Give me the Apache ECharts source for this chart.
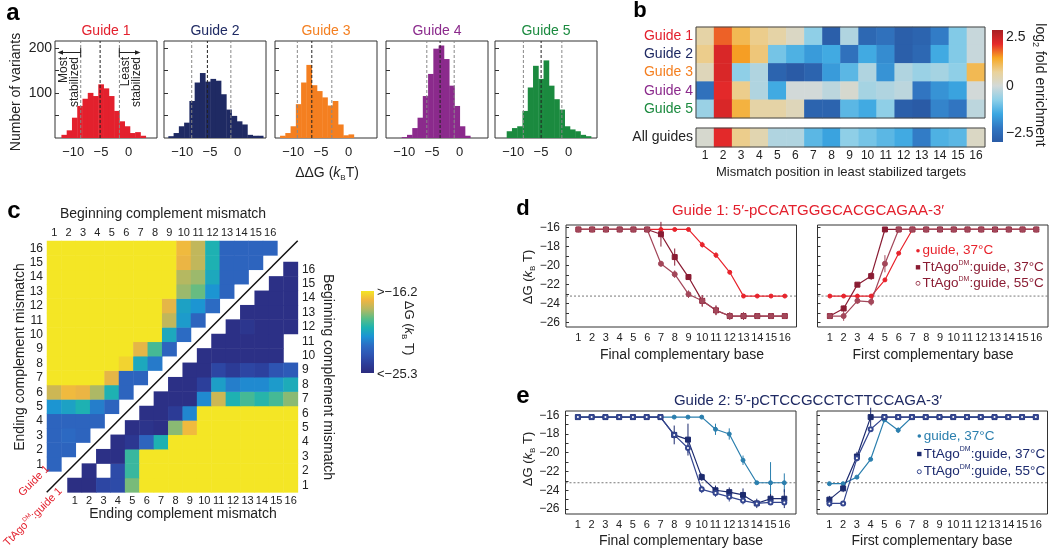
<!DOCTYPE html>
<html><head><meta charset="utf-8">
<script src="https://cdn.jsdelivr.net/npm/echarts@6/dist/echarts.min.js"></script>
<style>html,body{margin:0;padding:0;background:#fff}#c{width:1050px;height:549px}</style>
</head><body><div id="c"></div>
<script>
// ---------------- DATA ----------------
// Panel a: histograms of ΔΔG per guide
const aGuideNames = ['Guide 1', 'Guide 2', 'Guide 3', 'Guide 4', 'Guide 5'];
const histStarts = [-12.14, -12.52, -12.39, -10.46, -11.19];
const histBin = 0.95;
const hist1 = [7, 17, 45, 71, 87, 100, 93, 119, 110, 93, 60, 37, 26, 11, 13, 5];
const hist2 = [4, 11, 26, 34, 82, 123, 144, 125, 131, 127, 97, 63, 49, 37, 30, 7, 5, 5];
const hist3 = [5, 11, 26, 75, 123, 162, 117, 104, 90, 72, 82, 30, 6, 8];
const hist4 = [2, 7, 22, 45, 93, 142, 198, 205, 175, 116, 71, 26, 5];
const hist5 = [15, 22, 26, 60, 112, 160, 131, 172, 116, 86, 63, 26, 19, 15, 7, 4];
const histDash1 = [-8.66, -5.16, -1.68];
const histDash2 = [-8.30, -5.47, -1.24];
const histDash3 = [-9.27, -6.66, -3.05];
const histDash4 = [-5.94, -3.54, -1.00];
const histDash5 = [-8.18, -4.98, -1.24];
const aXTicks = [-10, -5, 0];
const aYTicks = [50, 100, 150, 200];
const aYLabels = [100, 200];

// Panel b: log2 fold enrichment heatmap
const bCols = ['1','2','3','4','5','6','7','8','9','10','11','12','13','14','15','16'];
const bRows = ['Guide 1', 'Guide 2', 'Guide 3', 'Guide 4', 'Guide 5'];
const bG1 = [0.5, 1.6, 1.0, 0.7, 0.5, 0.2, -0.6, -2.4, -0.3, -2.2, -2.0, -2.4, -2.3, -1.8, -0.7, -0.1];
const bG2 = [0.7, 2.0, 1.3, 0.8, -0.8, -1.1, -1.4, -1.2, -2.0, -1.2, -1.6, -2.4, -2.2, -1.2, -0.7, -0.1];
const bG3 = [0.3, 2.0, -0.6, -0.3, -2.3, -2.5, -2.3, -1.4, -1.0, -0.3, -1.5, -0.3, -0.5, -0.4, -0.6, 1.0];
const bG4 = [-2.0, 1.9, 0.7, -0.3, -1.2, 0.0, 0.0, -0.2, 0.1, -0.4, -0.3, -0.2, -1.9, -1.5, -1.3, 0.0];
const bG5 = [-0.5, 2.0, 1.1, 0.5, 0.5, 0.3, -2.3, -2.3, -1.0, -1.2, -0.6, -2.4, -2.5, -1.7, -1.9, -0.2];
const bAll = [0.1, 1.9, 0.7, 0.4, -0.3, -0.3, -1.0, -1.3, -0.6, -0.8, -1.0, -1.2, -1.8, -1.1, -1.0, 0.2];

// Panel c: ΔG matrices (rows = ending mismatch 1..16 for guide; rows = beginning 1..16 for TtAgo)
const cCats = ['1','2','3','4','5','6','7','8','9','10','11','12','13','14','15','16'];
const cGuide = [
  [-22.6, null, null, null, null, null, null, null, null, null, null, null, null, null, null, null],
  [-22.6, -22.6, null, null, null, null, null, null, null, null, null, null, null, null, null, null],
  [-22.6, -22.4, -22.6, null, null, null, null, null, null, null, null, null, null, null, null, null],
  [-22.6, -22.6, -22.6, -22.6, null, null, null, null, null, null, null, null, null, null, null, null],
  [-21.2, -20.8, -20.3, -21.8, -22.6, null, null, null, null, null, null, null, null, null, null, null],
  [-17.8, -17.1, -17.3, -18.3, -20.3, -22.6, null, null, null, null, null, null, null, null, null, null],
  [-16.2, -16.2, -16.2, -16.2, -17.4, -22.6, -22.6, null, null, null, null, null, null, null, null, null],
  [-16.2, -16.2, -16.2, -16.2, -16.2, -16.6, -20.6, -21.9, null, null, null, null, null, null, null, null],
  [-16.2, -16.2, -16.2, -16.2, -16.2, -16.2, -17.4, -19.6, -22.6, null, null, null, null, null, null, null],
  [-16.2, -16.2, -16.2, -16.2, -16.2, -16.2, -16.2, -16.2, -20.6, -22.3, null, null, null, null, null, null],
  [-16.2, -16.2, -16.2, -16.2, -16.2, -16.2, -16.2, -16.2, -18.0, -21.0, -22.6, null, null, null, null, null],
  [-16.2, -16.2, -16.2, -16.2, -16.2, -16.2, -16.2, -16.2, -17.4, -20.8, -21.2, -22.3, null, null, null, null],
  [-16.2, -16.2, -16.2, -16.2, -16.2, -16.2, -16.2, -16.2, -16.2, -18.5, -19.1, -21.2, -22.6, null, null, null],
  [-16.2, -16.2, -16.2, -16.2, -16.2, -16.2, -16.2, -16.2, -16.2, -18.2, -18.5, -20.6, -22.6, -22.6, null, null],
  [-16.2, -16.2, -16.2, -16.2, -16.2, -16.2, -16.2, -16.2, -16.2, -17.3, -18.0, -20.3, -22.6, -22.6, -22.6, null],
  [-16.2, -16.2, -16.2, -16.2, -16.2, -16.2, -16.2, -16.2, -16.2, -17.1, -18.0, -20.3, -22.6, -22.6, -22.6, -22.6]
];
const cTtAgo = [
  [-25.1, -25.1, -23.9, -23.7, -18.9, -16.2, -16.2, -16.2, -16.2, -16.2, -16.2, -16.2, -16.2, -16.2, -16.2, -16.2],
  [null, -25.0, null, -23.7, -19.8, -16.2, -16.2, -16.2, -16.2, -16.2, -16.2, -16.2, -16.2, -16.2, -16.2, -16.2],
  [null, null, -25.0, -25.0, -19.8, -16.2, -16.2, -16.2, -16.2, -16.2, -16.2, -16.2, -16.2, -16.2, -16.2, -16.2],
  [null, null, null, -25.0, -24.6, -22.6, -20.3, -16.2, -16.2, -16.2, -16.2, -16.2, -16.2, -16.2, -16.2, -16.2],
  [null, null, null, null, -25.0, -24.8, -25.0, -18.7, -17.1, -16.2, -16.2, -16.2, -16.2, -16.2, -16.2, -16.2],
  [null, null, null, null, null, -25.0, -25.0, -24.4, -21.6, -16.2, -16.2, -16.2, -16.2, -16.2, -16.2, -16.2],
  [null, null, null, null, null, null, -25.0, -25.0, -25.0, -21.5, -17.8, -20.3, -19.6, -20.1, -19.6, -18.7],
  [null, null, null, null, null, null, null, -25.0, -25.0, -24.2, -20.9, -21.8, -21.5, -21.5, -21.0, -20.5],
  [null, null, null, null, null, null, null, null, -25.0, -25.0, -23.9, -24.4, -23.9, -24.1, -23.3, -23.0],
  [null, null, null, null, null, null, null, null, null, -25.0, -25.0, -25.0, -25.0, -25.0, -25.0, null],
  [null, null, null, null, null, null, null, null, null, null, -25.0, -25.0, -25.0, -25.0, -25.0, null],
  [null, null, null, null, null, null, null, null, null, null, null, -25.0, -24.7, -25.0, -25.0, -25.0],
  [null, null, null, null, null, null, null, null, null, null, null, null, -25.0, -25.0, -25.0, -25.0],
  [null, null, null, null, null, null, null, null, null, null, null, null, null, -25.0, -25.0, -25.0],
  [null, null, null, null, null, null, null, null, null, null, null, null, null, null, -25.0, -25.0],
  [null, null, null, null, null, null, null, null, null, null, null, null, null, null, null, -25.0]
];

// Panels d, e: ΔG vs complementary base
const basePos = [1, 2, 3, 4, 5, 6, 7, 8, 9, 10, 11, 12, 13, 14, 15, 16];
const dgTicks = [-26, -25, -24, -23, -22, -21, -20, -19, -18, -17, -16];
const dgLabels = [-26, -24, -22, -20, -18, -16];
const dgRef = -23.2;
const dFinalGuide = [-16.2, -16.2, -16.2, -16.2, -16.2, -16.2, -16.2, -16.2, -16.2, -17.8, -18.9, -20.7, -23.2, -23.2, -23.2, -23.2];
const dFinalGuideErr = [0, 0, 0, 0, 0, 0, 0, 0, 0, 0.3, 0.3, 0.2, 0, 0, 0, 0];
const dFinalTt37 = [-16.2, -16.2, -16.2, -16.2, -16.2, -16.2, -16.7, -19.1, -21.2, -23.7, -24.7, -25.3, -25.3, -25.3, -25.3, -25.3];
const dFinalTt37Err = [0, 0, 0, 0, 0, 0, 1.3, 0.9, 0.3, 0.6, 0.5, 0.4, 0.4, 0, 0.3, 0];
const dFinalTt55 = [-16.2, -16.2, -16.2, -16.2, -16.2, -16.2, -19.8, -20.9, -23.0, -23.7, -24.7, -25.3, -25.3, -25.3, -25.3, -25.3];
const dFinalTt55Err = [0, 0, 0, 0, 0, 0, 0.3, 0.4, 0.4, 0.6, 0.5, 0, 0, 0, 0, 0];
const dFirstGuide = [-23.2, -23.2, -23.2, -23.2, -21.5, -18.7, -16.2, -16.2, -16.2, -16.2, -16.2, -16.2, -16.2, -16.2, -16.2, -16.2];
const dFirstGuideErr = [0, 0, 0, 0, 0.2, 0, 0, 0, 0, 0, 0, 0, 0, 0, 0, 0];
const dFirstTt37 = [-25.3, -24.5, -22.0, -21.1, -16.2, -16.2, -16.2, -16.2, -16.2, -16.2, -16.2, -16.2, -16.2, -16.2, -16.2, -16.2];
const dFirstTt37Err = [0, 0.3, 0.2, 0.4, 0, 0, 0, 0, 0, 0, 0, 0, 0, 0, 0, 0];
const dFirstTt55 = [-25.3, -25.3, -23.7, -23.8, -19.8, -16.2, -16.2, -16.2, -16.2, -16.2, -16.2, -16.2, -16.2, -16.2, -16.2, -16.2];
const dFirstTt55Err = [0, 0.5, 0.3, 0.4, 0.9, 0, 0, 0, 0, 0, 0, 0, 0, 0, 0, 0];
const eFinalGuide = [-16.2, -16.2, -16.2, -16.2, -16.2, -16.2, -16.2, -16.2, -16.2, -16.2, -17.5, -18.0, -20.8, -23.2, -23.2, -23.2];
const eFinalGuideErr = [0, 0, 0, 0, 0, 0, 0, 0, 0, 0, 0.6, 0.6, 0.5, 0, 2.2, 1.0];
const eFinalTt37 = [-16.2, -16.2, -16.2, -16.2, -16.2, -16.2, -16.2, -18.1, -18.6, -22.6, -24.0, -24.2, -24.5, -25.4, -24.9, -24.9];
const eFinalTt37Err = [0, 0, 0, 0, 0, 0, 0, 1.0, 1.7, 0.4, 0.5, 0.5, 0.7, 0.5, 0.5, 1.0];
const eFinalTt55 = [-16.2, -16.2, -16.2, -16.2, -16.2, -16.2, -16.2, -18.1, -19.5, -23.9, -24.3, -24.7, -25.1, -25.4, -25.3, -25.3];
const eFinalTt55Err = [0, 0, 0, 0, 0, 0, 0, 0.4, 0.5, 0.4, 0.4, 0.5, 0.4, 0, 0, 0];
const eFirstGuide = [-23.3, -23.3, -22.6, -20.7, -16.5, -17.6, -16.2, -16.2, -16.2, -16.2, -16.2, -16.2, -16.2, -16.2, -16.2, -16.2];
const eFirstGuideErr = [0, 0, 0, 0, 0, 0.3, 0, 0, 0, 0, 0, 0, 0, 0, 0, 0];
const eFirstTt37 = [-25.0, -23.8, -20.4, -16.2, -16.2, -16.2, -16.2, -16.2, -16.2, -16.2, -16.2, -16.2, -16.2, -16.2, -16.2, -16.2];
const eFirstTt37Err = [0.4, 0.4, 0.5, 1.0, 0, 0, 0, 0, 0, 0, 0, 0, 0, 0, 0, 0];
const eFirstTt55 = [-25.4, -25.4, -20.6, -17.5, -16.2, -16.2, -16.2, -16.2, -16.2, -16.2, -16.2, -16.2, -16.2, -16.2, -16.2, -16.2];
const eFirstTt55Err = [0.4, 0, 0.3, 0, 0, 0, 0, 0, 0, 0, 0, 0, 0, 0, 0, 0];

// ---------------- STYLE ----------------
const FONT = "'Liberation Sans', Arial, Helvetica, sans-serif";
const NARROW = "'Liberation Sans Narrow', 'Arial Narrow', 'Liberation Sans', sans-serif";
const guideColors = ['#e3202d', '#1f2a63', '#f47f20', '#8b2a8c', '#1b8a3f'];
const bPalette = ['#2a5ba6', '#3176c2', '#3ba7e2', '#8ccfe8', '#d2d9d8', '#ead29a', '#f7a823', '#e5292a', '#a81e22'];
const parula = ['#2c2b7e', '#2c3d99', '#2e55b3', '#2c6cc4', '#1c93d4', '#1eb3b0', '#5bbd86', '#b4b862', '#f0b541', '#f4e625'];
const minus = v => (v < 0 ? '\u2212' + Math.abs(v) : String(v));

const grids = [], xAxes = [], yAxes = [], series = [], graphics = [];
function addGrid(g) { grids.push(g); return grids.length - 1; }
function txt(x, y, text, o) {
  o = o || {};
  graphics.push({
    type: 'text', x: x, y: y, rotation: o.rotation || 0, z: 50,
    style: {
      text: text, fill: o.color || '#222', fontSize: o.size || 13, fontFamily: o.font || FONT,
      fontWeight: o.weight || 'normal', align: o.align || 'center', verticalAlign: o.valign || 'middle',
      rich: o.rich
    }
  });
}

// ---------------- PANEL A ----------------
const histCounts = [hist1, hist2, hist3, hist4, hist5];
const histDashes = [histDash1, histDash2, histDash3, histDash4, histDash5];
const aLefts = [55, 164, 275, 386, 495];
aGuideNames.forEach((name, g) => {
  const gi = addGrid({ left: aLefts[g], top: 41, width: 102, height: 97, show: true, borderColor: '#333', borderWidth: 1 });
  xAxes.push({ gridIndex: gi, type: 'value', min: -13.3, max: 5.1, axisLine: { show: false, onZero: false }, axisTick: { show: false },
    splitLine: { show: false }, axisLabel: { customValues: aXTicks, formatter: minus, fontSize: 13, fontFamily: FONT, color: '#222', margin: 8 } });
  yAxes.push({ gridIndex: gi, type: 'value', min: 0, max: 215, axisLine: { show: false, onZero: false }, splitLine: { show: false },
    axisTick: { show: true, inside: true, length: 4, customValues: aYTicks, lineStyle: { color: '#333' } },
    axisLabel: g === 0 ? { customValues: aYLabels, fontSize: 14, fontFamily: FONT, color: '#222', margin: 3 } : { show: false } });
  const col = guideColors[g];
  const data = histCounts[g].map((c, i) => [histStarts[g] + i * histBin, histStarts[g] + (i + 1) * histBin, c]);
  series.push({
    type: 'custom', xAxisIndex: gi, yAxisIndex: gi, silent: true, data: data, encode: { x: [0, 1], y: 2 },
    renderItem: (p, api) => {
      const a = api.coord([api.value(0), api.value(2)]);
      const b = api.coord([api.value(1), 0]);
      return { type: 'rect', shape: { x: a[0], y: a[1], width: b[0] - a[0] + 0.4, height: b[1] - a[1] }, style: { fill: col } };
    }
  });
  histDashes[g].forEach((v, k) => {
    series.push({ type: 'line', xAxisIndex: gi, yAxisIndex: gi, silent: true, symbol: 'none', z: 5,
      data: [[v, 0], [v, 215]], lineStyle: { type: [3, 2], width: 1, color: k === 1 ? '#222' : '#888' } });
  });
  txt(aLefts[g] + 51, 31, name, { color: col, size: 14 });
});
txt(16, 92, 'Number of variants', { rotation: Math.PI / 2, size: 14 });
txt(327, 173, '{n|ΔΔG (}{i|k}{s|B}{n|T)}', { rich: {
  n: { fontSize: 14, fontFamily: FONT, fill: '#222', lineHeight: 18, verticalAlign: 'middle' },
  i: { fontSize: 14, fontFamily: FONT, fontStyle: 'italic', fill: '#222', lineHeight: 18 },
  s: { fontSize: 8, fontFamily: FONT, fill: '#222', lineHeight: 18, verticalAlign: 'bottom', padding: [6, 0, 0, 0] } } });
// annotations (most / least stabilized)
graphics.push({ type: 'line', z: 50, shape: { x1: 60, y1: 52.5, x2: 80.7, y2: 52.5 }, style: { stroke: '#222', lineWidth: 1 } });
graphics.push({ type: 'polygon', z: 50, shape: { points: [[57.5, 52.5], [63, 50.2], [63, 54.8]] }, style: { fill: '#222' } });
graphics.push({ type: 'line', z: 50, shape: { x1: 80.7, y1: 48, x2: 80.7, y2: 57 }, style: { stroke: '#222', lineWidth: 1 } });
graphics.push({ type: 'line', z: 50, shape: { x1: 119.3, y1: 52.5, x2: 138, y2: 52.5 }, style: { stroke: '#222', lineWidth: 1 } });
graphics.push({ type: 'polygon', z: 50, shape: { points: [[140.5, 52.5], [135, 50.2], [135, 54.8]] }, style: { fill: '#222' } });
graphics.push({ type: 'line', z: 50, shape: { x1: 119.3, y1: 48, x2: 119.3, y2: 57 }, style: { stroke: '#222', lineWidth: 1 } });
txt(64, 57, 'Most', { rotation: Math.PI / 2, align: 'right', size: 12 });
txt(74.5, 57, 'stabilized', { rotation: Math.PI / 2, align: 'right', size: 12 });
txt(126, 57, 'Least', { rotation: Math.PI / 2, align: 'right', size: 12 });
txt(136.5, 57, 'stabilized', { rotation: Math.PI / 2, align: 'right', size: 12 });

// ---------------- PANEL B ----------------
const gB = addGrid({ left: 696, top: 27, width: 289, height: 91 });
xAxes.push({ gridIndex: gB, type: 'category', data: bCols, axisLine: { show: false }, axisTick: { show: false }, axisLabel: { show: false } });
yAxes.push({ gridIndex: gB, type: 'category', data: bRows, inverse: true, axisLine: { show: false }, axisTick: { show: false },
  axisLabel: { fontSize: 14, fontFamily: FONT, margin: 3, color: (v, i) => guideColors[i] } });
const gB2 = addGrid({ left: 696, top: 128, width: 289, height: 19 });
xAxes.push({ gridIndex: gB2, type: 'category', data: bCols, axisLine: { show: false }, axisTick: { show: false },
  axisLabel: { fontSize: 12, fontFamily: NARROW, color: '#222', margin: 3, interval: 0 } });
yAxes.push({ gridIndex: gB2, type: 'category', data: ['All guides'], axisLine: { show: false }, axisTick: { show: false },
  axisLabel: { fontSize: 14, fontFamily: FONT, color: '#222', margin: 3 } });
const bMatrix = [bG1, bG2, bG3, bG4, bG5];
const bData = [];
bMatrix.forEach((row, r) => row.forEach((v, c) => bData.push([c, r, v])));
const sB = series.length;
series.push({ type: 'heatmap', xAxisIndex: gB, yAxisIndex: gB, data: bData, silent: true, itemStyle: { borderWidth: 0 } });
series.push({ type: 'heatmap', xAxisIndex: gB2, yAxisIndex: gB2, data: bAll.map((v, c) => [c, 0, v]), silent: true, itemStyle: { borderWidth: 0 } });
graphics.push({ type: 'rect', z: 60, shape: { x: 696, y: 27, width: 289, height: 91 }, style: { fill: 'none', stroke: '#444', lineWidth: 1 } });
graphics.push({ type: 'rect', z: 60, shape: { x: 696, y: 128, width: 289, height: 19 }, style: { fill: 'none', stroke: '#444', lineWidth: 1 } });
txt(841, 172, 'Mismatch position in least stabilized targets', { size: 13 });
graphics.push({ type: 'rect', z: 50, shape: { x: 992, y: 30, width: 11, height: 112 },
  style: { fill: new echarts.graphic.LinearGradient(0, 0, 0, 1, bPalette.slice().reverse().map((c, i, arr) => ({ offset: i / (arr.length - 1), color: c }))) } });
txt(1006, 37, '2.5', { align: 'left', size: 14 });
txt(1006, 86, '0', { align: 'left', size: 14 });
txt(1006, 133, '\u22122.5', { align: 'left', size: 14 });
txt(1040, 85, '{n|log}{s|2}{n| fold enrichment}', { rotation: -Math.PI / 2, rich: {
  n: { fontSize: 14, fontFamily: FONT, fill: '#222', lineHeight: 18 },
  s: { fontSize: 9, fontFamily: FONT, fill: '#222', lineHeight: 18, verticalAlign: 'bottom', padding: [7, 0, 0, 0] } } });

// ---------------- PANEL C ----------------
const gC1 = addGrid({ left: 47, top: 241, width: 230.4, height: 230.4 });
xAxes.push({ gridIndex: gC1, type: 'category', data: cCats, position: 'top', axisLine: { show: false }, axisTick: { show: false },
  axisLabel: { fontSize: 11, fontFamily: NARROW, color: '#222', margin: 3, interval: 0 } });
yAxes.push({ gridIndex: gC1, type: 'category', data: cCats, position: 'left', axisLine: { show: false }, axisTick: { show: false },
  axisLabel: { fontSize: 12, fontFamily: NARROW, color: '#222', margin: 4, interval: 0 } });
const gC2 = addGrid({ left: 67.5, top: 262, width: 230.4, height: 230.4 });
xAxes.push({ gridIndex: gC2, type: 'category', data: cCats, position: 'bottom', axisLine: { show: false }, axisTick: { show: false },
  axisLabel: { fontSize: 11, fontFamily: NARROW, color: '#222', margin: 3, interval: 0 } });
yAxes.push({ gridIndex: gC2, type: 'category', data: cCats, position: 'right', axisLine: { show: false }, axisTick: { show: false },
  axisLabel: { fontSize: 12, fontFamily: NARROW, color: '#222', margin: 4, interval: 0 } });
const cData1 = [], cData2 = [];
cGuide.forEach((row, r) => row.forEach((v, c) => { if (v !== null) cData1.push([c, r, v]); }));
cTtAgo.forEach((row, r) => row.forEach((v, c) => { if (v !== null) cData2.push([c, r, v]); }));
const sC = series.length;
series.push({ type: 'heatmap', xAxisIndex: gC1, yAxisIndex: gC1, data: cData1, silent: true, itemStyle: { borderWidth: 0 } });
series.push({ type: 'heatmap', xAxisIndex: gC2, yAxisIndex: gC2, data: cData2, silent: true, itemStyle: { borderWidth: 0 } });
graphics.push({ type: 'line', z: 60, shape: { x1: 46.7, y1: 492.3, x2: 297.7, y2: 240.7 }, style: { stroke: '#111', lineWidth: 1.5 } });
txt(163, 214, 'Beginning complement mismatch', { size: 14 });
txt(20, 357, 'Ending complement mismatch', { size: 14, rotation: Math.PI / 2 });
txt(183, 514, 'Ending complement mismatch', { size: 14 });
txt(328, 377, 'Beginning complement mismatch', { size: 14, rotation: -Math.PI / 2 });
txt(34, 481, 'Guide 1', { size: 11, color: '#e3202d', rotation: Math.PI / 4 });
txt(33, 517, '{n|TtAgo}{s|DM}{n|:guide 1}', { rotation: Math.PI / 4, rich: {
  n: { fontSize: 11, fontFamily: FONT, fill: '#e3202d', lineHeight: 14 },
  s: { fontSize: 6, fontFamily: FONT, fill: '#e3202d', lineHeight: 14, verticalAlign: 'top', padding: [0, 0, 5, 0] } } });
graphics.push({ type: 'rect', z: 50, shape: { x: 361, y: 291, width: 13, height: 82 },
  style: { fill: new echarts.graphic.LinearGradient(0, 0, 0, 1, parula.slice().reverse().map((c, i, arr) => ({ offset: i / (arr.length - 1), color: c }))) } });
txt(377, 292, '>\u221216.2', { align: 'left', size: 13 });
txt(377, 374, '<\u221225.3', { align: 'left', size: 13 });
txt(409, 328, '{n|ΔG (}{i|k}{s|B}{n| T)}', { rotation: -Math.PI / 2, rich: {
  n: { fontSize: 13, fontFamily: FONT, fill: '#222', lineHeight: 17 },
  i: { fontSize: 13, fontFamily: FONT, fontStyle: 'italic', fill: '#222', lineHeight: 17 },
  s: { fontSize: 8, fontFamily: FONT, fill: '#222', lineHeight: 17, verticalAlign: 'bottom', padding: [6, 0, 0, 0] } } });

// ---------------- PANELS D, E ----------------
function linePanel(left, top, height, ymin, ymax, showY, sets) {
  const gi = addGrid({ left: left, top: top, width: 230.5, height: height, show: true, borderColor: '#333', borderWidth: 1 });
  xAxes.push({ gridIndex: gi, type: 'value', min: 0.1, max: 16.85, axisLine: { show: false, onZero: false }, axisTick: { show: false }, splitLine: { show: false },
    axisLabel: { customValues: basePos, fontSize: 11, fontFamily: NARROW, color: '#222', margin: 5 } });
  yAxes.push({ gridIndex: gi, type: 'value', min: ymin, max: ymax, axisLine: { show: false, onZero: false }, splitLine: { show: false },
    axisTick: { show: true, inside: true, length: 3, customValues: dgTicks, lineStyle: { color: '#333' } },
    axisLabel: showY ? { customValues: dgLabels, formatter: minus, fontSize: 12, fontFamily: NARROW, color: '#222', margin: 6 } : { show: false } });
  series.push({ type: 'line', xAxisIndex: gi, yAxisIndex: gi, silent: true, symbol: 'none', z: 3,
    data: [[0.1, dgRef], [16.85, dgRef]], lineStyle: { type: [2, 2], width: 1, color: '#777' } });
  sets.forEach(s => {
    series.push({ type: 'line', xAxisIndex: gi, yAxisIndex: gi, silent: true, z: 4,
      data: basePos.map((x, i) => [x, s.v[i]]), symbol: s.sym, symbolSize: s.size,
      itemStyle: { color: s.c, borderColor: s.c, borderWidth: 1 }, lineStyle: { color: s.c, width: 1.2 } });
    const eb = [];
    basePos.forEach((x, i) => { if (s.e[i] > 0) eb.push([x, s.v[i] - s.e[i], s.v[i] + s.e[i]]); });
    const col = s.c;
    series.push({ type: 'custom', xAxisIndex: gi, yAxisIndex: gi, silent: true, z: 4, data: eb, encode: { x: 0, y: [1, 2] },
      renderItem: (p, api) => {
        const a = api.coord([api.value(0), api.value(1)]);
        const b = api.coord([api.value(0), api.value(2)]);
        return { type: 'line', shape: { x1: a[0], y1: a[1], x2: b[0], y2: b[1] }, style: { stroke: col, lineWidth: 1 } };
      } });
  });
}
const dC = ['#e8232c', '#8a1c33', '#a3475a'];
const eC = ['#2b7fae', '#1c2a6e', '#34468f'];
linePanel(566, 225, 102, -26.45, -15.73, true, [
  { v: dFinalGuide, e: dFinalGuideErr, c: dC[0], sym: 'circle', size: 4 },
  { v: dFinalTt37, e: dFinalTt37Err, c: dC[1], sym: 'rect', size: 5 },
  { v: dFinalTt55, e: dFinalTt55Err, c: dC[2], sym: 'circle', size: 5 }]);
linePanel(817.5, 225, 102, -26.45, -15.73, false, [
  { v: dFirstGuide, e: dFirstGuideErr, c: dC[0], sym: 'circle', size: 4 },
  { v: dFirstTt37, e: dFirstTt37Err, c: dC[1], sym: 'rect', size: 5 },
  { v: dFirstTt55, e: dFirstTt55Err, c: dC[2], sym: 'circle', size: 5 }]);
linePanel(565.5, 411, 103, -26.53, -15.55, true, [
  { v: eFinalGuide, e: eFinalGuideErr, c: eC[0], sym: 'circle', size: 4 },
  { v: eFinalTt37, e: eFinalTt37Err, c: eC[1], sym: 'rect', size: 5 },
  { v: eFinalTt55, e: eFinalTt55Err, c: eC[2], sym: 'emptyCircle', size: 4 }]);
linePanel(817, 411, 103, -26.53, -15.55, false, [
  { v: eFirstGuide, e: eFirstGuideErr, c: eC[0], sym: 'circle', size: 4 },
  { v: eFirstTt37, e: eFirstTt37Err, c: eC[1], sym: 'rect', size: 5 },
  { v: eFirstTt55, e: eFirstTt55Err, c: eC[2], sym: 'emptyCircle', size: 4 }]);

txt(808, 211, 'Guide 1: 5\u2032-pCCATGGGCACGCAGAA-3\u2032', { size: 15, color: '#e3202d' });
txt(808, 401, 'Guide 2: 5\u2032-pCTCCGCCTCTTCCAGA-3\u2032', { size: 15, color: '#1f2a63' });
txt(682, 355, 'Final complementary base', { size: 14 });
txt(933, 355, 'First complementary base', { size: 14 });
txt(681, 541, 'Final complementary base', { size: 14 });
txt(932, 541, 'First complementary base', { size: 14 });
const dgRich = {
  n: { fontSize: 13, fontFamily: FONT, fill: '#222', lineHeight: 17 },
  i: { fontSize: 13, fontFamily: FONT, fontStyle: 'italic', fill: '#222', lineHeight: 17 },
  s: { fontSize: 8, fontFamily: FONT, fill: '#222', lineHeight: 17, verticalAlign: 'bottom', padding: [6, 0, 0, 0] } };
txt(528, 277, '{n|ΔG (}{i|k}{s|B}{n| T)}', { rotation: Math.PI / 2, rich: dgRich });
txt(528, 459, '{n|ΔG (}{i|k}{s|B}{n| T)}', { rotation: Math.PI / 2, rich: dgRich });

function legend(x, ys, cols, txtCols) {
  graphics.push({ type: 'circle', z: 60, shape: { cx: x, cy: ys[0], r: 1.8 }, style: { fill: cols[0] } });
  graphics.push({ type: 'rect', z: 60, shape: { x: x - 2.2, y: ys[1] - 2.2, width: 4.4, height: 4.4 }, style: { fill: cols[1] } });
  graphics.push({ type: 'circle', z: 60, shape: { cx: x, cy: ys[2], r: 2 }, style: { fill: '#fff', stroke: cols[2], lineWidth: 1 } });
  const mk = c => ({ n: { fontSize: 13.5, fontFamily: FONT, fill: c, lineHeight: 16 },
    s: { fontSize: 7, fontFamily: FONT, fill: c, lineHeight: 16, verticalAlign: 'top', padding: [0, 0, 6, 0] } });
  txt(x + 4.5, ys[0], '{n|guide, 37°C}', { align: 'left', rich: mk(txtCols[0]) });
  txt(x + 4.5, ys[1], '{n|TtAgo}{s|DM}{n|:guide, 37°C}', { align: 'left', rich: mk(txtCols[1]) });
  txt(x + 4.5, ys[2], '{n|TtAgo}{s|DM}{n|:guide, 55°C}', { align: 'left', rich: mk(txtCols[1]) });
}
legend(918, [250.7, 267.3, 283.3], dC, [dC[0], dC[1]]);
legend(919.3, [436, 454, 471.7], eC, [eC[0], eC[1]]);

// panel letters
txt(13, 13, 'a', { size: 24, weight: 'bold', color: '#000' });
txt(640, 11, 'b', { size: 22, weight: 'bold', color: '#000' });
txt(14, 211, 'c', { size: 24, weight: 'bold', color: '#000' });
txt(523, 209, 'd', { size: 22, weight: 'bold', color: '#000' });
txt(523, 396, 'e', { size: 24, weight: 'bold', color: '#000' });

// ---------------- CHART ----------------
const chart = echarts.init(document.getElementById('c'), null, { renderer: 'canvas', width: 1050, height: 549 });
chart.setOption({
  animation: false,
  backgroundColor: '#fff',
  grid: grids, xAxis: xAxes, yAxis: yAxes, series: series,
  visualMap: [
    { type: 'continuous', show: false, min: -2.5, max: 2.5, seriesIndex: [sB, sB + 1], inRange: { color: bPalette } },
    { type: 'continuous', show: false, min: -25.3, max: -16.2, seriesIndex: [sC, sC + 1], inRange: { color: parula } }
  ],
  graphic: graphics
});
</script></body></html>
